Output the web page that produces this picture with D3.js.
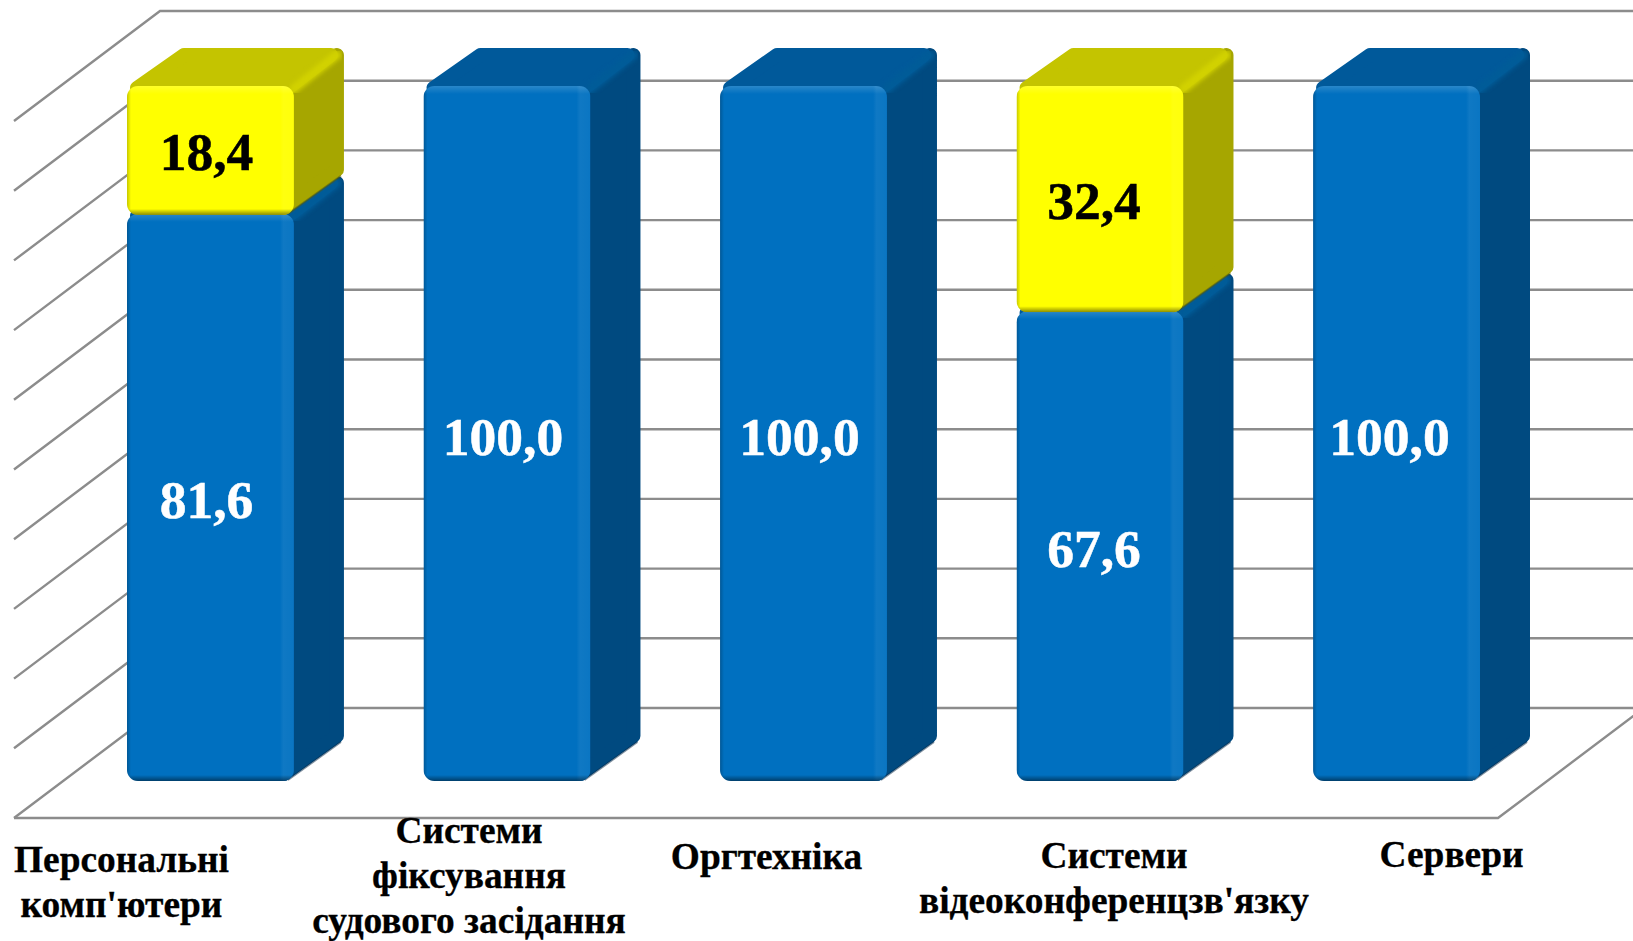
<!DOCTYPE html>
<html>
<head>
<meta charset="utf-8">
<script src="https://cdn.jsdelivr.net/npm/d3@7"></script>
<style>
  html, body { margin: 0; padding: 0; background: #fff; overflow: hidden; }
  svg { display: block; }
  text { font-family: "Liberation Serif", serif; font-weight: bold; }
</style>
</head>
<body>
<div id="svgContainer"></div>
<script>
const categories = ['Персональні комп\'ютери', 'Системи фіксування судового засідання', 'Оргтехніка', 'Системи відеоконференцзв\'язку', 'Сервери']
const categoryLines = [
  ['Персональні', 'комп\'ютери'],
  ['Системи', 'фіксування', 'судового засідання'],
  ['Оргтехніка'],
  ['Системи', 'відеоконференцзв\'язку'],
  ['Сервери']
]
const blueValues = [81.6, 100, 100, 67.6, 100]
const yellowValues = [18.4, 0, 0, 32.4, 0]
const gridTicks = [0, 10, 20, 30, 40, 50, 60, 70, 80, 90, 100]

const w = 1633,
      h = 941,
      depthX = 50,
      depthY = 38,
      wallX = 146,
      wallY = 110

const xScale = d3.scaleBand()
                 .domain(categories)
                 .range([127, 1480])
                 .paddingInner(0.437)
                 .paddingOuter(0)

const yScale = d3.scaleLinear().domain([0, 100]).range([781, 86])
const gridScale = d3.scaleLinear().domain([0, 100]).range([708, 11])

// label placement is uneven in the original
const labelShift = [-89, -38, -37, 14, 55]
const labelBase = [872, 842.5, 869, 868, 867]
const valueShift = [-4, -4, -4, -6, -7]

const fmt = (v) => v.toFixed(1).replace('.', ',')

const svg = d3.select('#svgContainer')
              .append('svg')
              .attr('width', w)
              .attr('height', h)

const defs = svg.append('defs')

const addGrad = (id, vertical, stops) => {
  const g = defs.append('linearGradient')
                .attr('id', id)
                .attr('x1', 0).attr('y1', 0)
                .attr('x2', vertical ? 0 : 1).attr('y2', vertical ? 1 : 0)
  stops.forEach((s) => {
    g.append('stop').attr('offset', s[0]).attr('stop-color', s[1]).attr('stop-opacity', s[2])
  })
}
addGrad('edgeRight', false, [[0, '#fff', 0], [0.25, '#fff', 0.06], [1, '#fff', 0.04]])
addGrad('edgeLeft', false, [[0, '#000', 0.22], [1, '#000', 0]])
addGrad('edgeBottom', true, [[0, '#000', 0], [1, '#000', 0.45]])
addGrad('edgeTop', true, [[0, '#fff', 0.16], [1, '#fff', 0]])

defs.append('filter')
    .attr('id', 'soft')
    .append('feGaussianBlur')
    .attr('stdDeviation', 2)

// walls and floor
const grid = svg.append('g')
                .attr('fill', 'none')
                .attr('stroke', '#8c8c8c')
                .attr('stroke-width', 2.4)

grid.selectAll('path')
    .data(gridTicks)
    .enter()
    .append('path')
    .attr('d', (d) => {
      const y = gridScale(d)
      return `M${160 - wallX},${y + wallY}L160,${y}L${w},${y}`
    })

grid.append('path')
    .attr('d', `M${160 - wallX},${gridScale(0) + wallY}L1498,${gridScale(0) + wallY}L${1498 + wallX},${gridScale(0)}`)

// one box of a stacked bar
const drawBox = (parent, id, x, top, bottom, bw, c) => {
  const r = 7
  const g = parent.append('g')

  // side
  g.append('path')
   .attr('d', `M${x + bw - 10},${top + 4}L${x + bw + depthX - r},${top - depthY + r}L${x + bw + depthX - r},${bottom - depthY - r}L${x + bw - 10},${bottom - r}Z`)
   .attr('fill', c.side)
   .attr('stroke', c.side)
   .attr('stroke-width', 2 * r)
   .attr('stroke-linejoin', 'round')

  // top
  g.append('path')
   .attr('d', `M${x + r + 3},${top + 2}L${x + depthX + 7},${top - depthY + r}L${x + bw + depthX - r - 6},${top - depthY + r}L${x + bw - 6},${top + 2}Z`)
   .attr('fill', c.top)
   .attr('stroke', c.top)
   .attr('stroke-width', 2 * r)
   .attr('stroke-linejoin', 'round')

  // ridge between top and side
  g.append('path')
   .attr('d', `M${x + bw},${top + 3}L${x + bw + depthX - 7},${top - depthY + 7}`)
   .attr('stroke', c.ridge)
   .attr('stroke-width', 9)
   .attr('stroke-linecap', 'round')
   .attr('filter', 'url(#soft)')

  // shadow under side
  g.append('path')
   .attr('d', `M${x + bw - 6},${bottom - 1}L${x + bw + depthX - 3},${bottom - depthY - 1}`)
   .attr('stroke', c.shade)
   .attr('stroke-width', 2)
   .attr('stroke-opacity', 0.5)

  // front
  defs.append('clipPath')
      .attr('id', id)
      .append('rect')
      .attr('x', x).attr('y', top)
      .attr('width', bw).attr('height', bottom - top)
      .attr('rx', 11)

  const front = g.append('g').attr('clip-path', `url(#${id})`)
  front.append('rect').attr('x', x).attr('y', top).attr('width', bw).attr('height', bottom - top).attr('fill', c.front)
  front.append('rect').attr('x', x + bw - 14).attr('y', top).attr('width', 14).attr('height', bottom - top).attr('fill', 'url(#edgeRight)')
  front.append('rect').attr('x', x).attr('y', top).attr('width', 4).attr('height', bottom - top).attr('fill', 'url(#edgeLeft)')
  front.append('rect').attr('x', x).attr('y', top).attr('width', bw).attr('height', 8).attr('fill', 'url(#edgeTop)')
  front.append('rect').attr('x', x).attr('y', bottom - 6).attr('width', bw).attr('height', 6).attr('fill', 'url(#edgeBottom)')
}

const blueStyle = { front: '#0070c0', side: '#004a80', top: '#00599a', ridge: '#005b98', shade: '#00223f' }
const yellowStyle = { front: '#ffff00', side: '#a6a600', top: '#c4c400', ridge: '#d2d200', shade: '#5c5c00' }

const bars = svg.append('g')

categories.forEach((c, i) => {
  const x = xScale(c), bw = xScale.bandwidth()
  drawBox(bars, 'blue' + i, x, yScale(blueValues[i]), yScale(0), bw, blueStyle)
})
categories.forEach((c, i) => {
  if (yellowValues[i] <= 0) return
  const x = xScale(c), bw = xScale.bandwidth()
  drawBox(bars, 'yellow' + i, x, yScale(blueValues[i] + yellowValues[i]), yScale(blueValues[i]) + 1, bw, yellowStyle)
})

// value labels
const valueLabels = svg.append('g')
                       .attr('text-anchor', 'middle')
                       .attr('font-size', 53.5)
                       .attr('stroke-width', 0.5)

valueLabels.selectAll('text.blue')
           .data(blueValues)
           .enter()
           .append('text')
           .attr('class', 'blue')
           .attr('x', (d, i) => xScale(categories[i]) + xScale.bandwidth() / 2 + valueShift[i])
           .attr('y', (d) => (yScale(d) + yScale(0)) / 2 + 21)
           .attr('fill', '#fff')
           .attr('stroke', '#fff')
           .text(fmt)

valueLabels.selectAll('text.yellow')
           .data(yellowValues)
           .enter()
           .filter((d) => d > 0)
           .append('text')
           .attr('class', 'yellow')
           .attr('x', (d) => {
             const i = yellowValues.indexOf(d)
             return xScale(categories[i]) + xScale.bandwidth() / 2 + valueShift[i]
           })
           .attr('y', (d) => {
             const b = blueValues[yellowValues.indexOf(d)]
             return (yScale(b) + yScale(b + d)) / 2 + 20
           })
           .attr('fill', '#000')
           .attr('stroke', '#000')
           .text(fmt)

// category labels
const catLabels = svg.append('g')
                     .attr('text-anchor', 'middle')
                     .attr('font-size', 37.4)
                     .attr('fill', '#000')
                     .attr('stroke', '#000')
                     .attr('stroke-width', 0.3)

categories.forEach((c, i) => {
  const cx = xScale(c) + xScale.bandwidth() / 2 + labelShift[i]
  categoryLines[i].forEach((line, j) => {
    catLabels.append('text')
             .attr('x', cx)
             .attr('y', labelBase[i] + j * 45)
             .text(line)
  })
})
</script>
</body>
</html>
